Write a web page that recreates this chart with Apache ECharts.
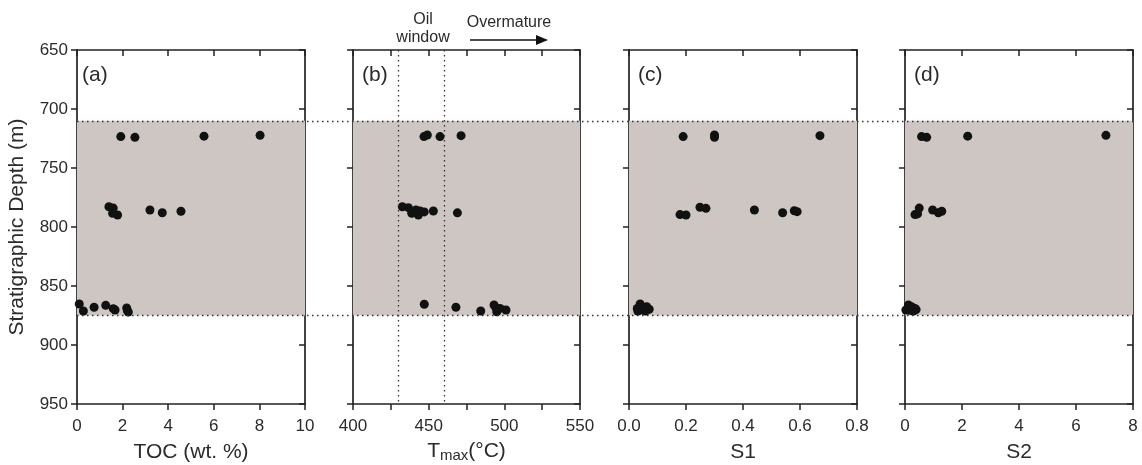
<!DOCTYPE html>
<html>
<head>
<meta charset="utf-8">
<script src="https://cdn.jsdelivr.net/npm/echarts@6/dist/echarts.min.js"></script>
<style>
html,body{margin:0;padding:0;background:#fff;}
#chart{width:1142px;height:465px;}
</style>
</head>
<body>
<div id="chart"></div>
<script>
// depth range and the shaded interval
var depthRange = [650, 950];
var zoneTop = 710, zoneBottom = 875;
var oilWindow = [430, 460];

// [value, depth (m)]
var tocData = [
  [1.92, 723.4], [2.54, 724], [5.57, 723], [8.03, 722.3],
  [1.40, 782.8], [1.59, 784], [1.56, 788.4], [1.78, 789.8], [3.2, 785.6], [3.74, 787.9], [4.56, 786.7],
  [0.1, 865.3], [0.28, 871.2], [0.75, 868], [1.26, 866.4], [1.59, 869.2], [1.67, 870.3], [2.18, 868.6], [2.21, 870.9], [2.25, 872]
];
var tmaxData = [
  [446.9, 723.4], [449.1, 722], [457.5, 723.4], [471.4, 722.6],
  [432.6, 782.8], [436.6, 783.6], [438.8, 788.4], [441.6, 785.6], [443.2, 789.8], [444.3, 786.4], [447.1, 787.2], [453.1, 786.4], [469, 788],
  [447.1, 865.5], [468, 868], [484.4, 871.2], [493.2, 866.1], [495, 871.8], [497.2, 869], [501.1, 870.3], [494.5, 868.5]
];
var s1Data = [
  [0.19, 723.4], [0.30, 722], [0.30, 724], [0.67, 722.6],
  [0.179, 789.5], [0.2, 789.8], [0.249, 783.3], [0.27, 784.2], [0.44, 785.6], [0.539, 787.9], [0.58, 786.2], [0.59, 787],
  [0.029, 869], [0.039, 865.3], [0.05, 870.3], [0.062, 867.5], [0.071, 869.7], [0.031, 871.2], [0.058, 871.2]
];
var s2Data = [
  [0.58, 723.4], [0.76, 724], [2.2, 723], [7.05, 722.3],
  [0.35, 789.5], [0.44, 788.9], [0.5, 784], [0.97, 785.6], [1.17, 788], [1.29, 786.7],
  [0.03, 870.3], [0.12, 866], [0.23, 867.5], [0.35, 869], [0.29, 871.2], [0.15, 870.6], [0.39, 870]
];

var panels = [
  {left: 77,  width: 228, min: 0,   max: 10,  step: 2,   label: '(a)', name: 'TOC (wt. %)', gap: 38, data: tocData},
  {left: 353, width: 227, min: 400, max: 550, step: 25,  label: '(b)', name: '{t|T}{s|max}{t|(°C)}', gap: 35, data: tmaxData},
  {left: 629, width: 228, min: 0,   max: 0.8, step: 0.2, label: '(c)', name: 'S1', gap: 38, data: s1Data},
  {left: 905, width: 228, min: 0,   max: 8,   step: 2,   label: '(d)', name: 'S2', gap: 38, data: s2Data}
];

var FONT = 'Liberation Sans, Arial, sans-serif';
var INK = '#222';
var TXT = '#2b2b2b';
var axisLine = {show: true, onZero: false, lineStyle: {color: INK, width: 1.7}};

var option = {
  animation: false,
  backgroundColor: '#fff',
  textStyle: {fontFamily: FONT},
  grid: [], xAxis: [], yAxis: [], series: [], graphic: []
};

panels.forEach(function (p, i) {
  option.grid.push({left: p.left, width: p.width, top: 50, height: 354, containLabel: false, outerBoundsMode: 'none'});
  // bottom axis
  option.xAxis.push({
    type: 'value', gridIndex: i, position: 'bottom', min: p.min, max: p.max, interval: p.step,
    axisLine: axisLine, splitLine: {show: false},
    axisTick: {show: true, length: 6, lineStyle: {color: INK, width: 1.5}},
    axisLabel: {
      color: TXT, fontSize: 17, margin: 14, showMinLabel: true, showMaxLabel: true,
      formatter: function (v) {
        if (i === 1) return v % 50 === 0 ? String(v) : '';
        if (i === 2) return v.toFixed(1);
        return String(v);
      }
    },
    name: p.name, nameLocation: 'middle', nameGap: p.gap,
    nameTextStyle: {
      color: TXT, fontSize: 21,
      rich: {t: {fontSize: 21, color: TXT}, s: {fontSize: 15, color: TXT, verticalAlign: 'bottom', padding: [9, 0, 0, 0]}}
    }
  });
  // top axis (ticks inward)
  option.xAxis.push({
    type: 'value', gridIndex: i, position: 'top', min: p.min, max: p.max, interval: p.step,
    axisLine: axisLine, splitLine: {show: false},
    axisTick: {show: true, inside: true, length: 6, lineStyle: {color: INK, width: 1.5}},
    axisLabel: {show: false}
  });
  // left depth axis
  option.yAxis.push({
    type: 'value', gridIndex: i, position: 'left', inverse: true,
    min: depthRange[0], max: depthRange[1], interval: 50,
    axisLine: axisLine, splitLine: {show: false},
    axisTick: {show: true, length: 6, lineStyle: {color: INK, width: 1.5}},
    axisLabel: {show: i === 0, color: TXT, fontSize: 17, margin: 9},
    name: i === 0 ? 'Stratigraphic Depth (m)' : '', nameLocation: 'middle', nameGap: 49, nameRotate: 90,
    nameTextStyle: {color: TXT, fontSize: 21}
  });
  // right depth axis (ticks inward)
  option.yAxis.push({
    type: 'value', gridIndex: i, position: 'right', inverse: true,
    min: depthRange[0], max: depthRange[1], interval: 50,
    axisLine: axisLine, splitLine: {show: false},
    axisTick: {show: true, inside: true, length: 6, lineStyle: {color: INK, width: 1.5}},
    axisLabel: {show: false}
  });

  var s = {
    type: 'scatter', xAxisIndex: i * 2, yAxisIndex: i * 2,
    data: p.data, symbolSize: 9, itemStyle: {color: '#111', opacity: 1},
    markArea: {
      silent: true, itemStyle: {color: '#cdc6c2'},
      data: [[{yAxis: zoneTop}, {yAxis: zoneBottom}]]
    },
    z: 3
  };
  if (i === 1) {
    s.markLine = {
      silent: true, symbol: 'none', label: {show: false},
      lineStyle: {color: '#333', type: [1.5, 3.5], width: 1.3},
      data: oilWindow.map(function (v) { return {xAxis: v}; })
    };
  }
  option.series.push(s);

  option.graphic.push({
    type: 'text', x: p.left + (i === 0 ? 5 : 9), y: 75,
    style: {text: p.label, font: '21px ' + FONT, fill: TXT, verticalAlign: 'middle'}
  });
});

// full-width overlay for the dotted zone boundaries
option.grid.push({left: 77, right: 9, top: 50, height: 354, containLabel: false, outerBoundsMode: 'none'});
option.xAxis.push({type: 'value', gridIndex: 4, min: 0, max: 1, show: false});
option.yAxis.push({type: 'value', gridIndex: 4, inverse: true, min: depthRange[0], max: depthRange[1], show: false});
option.series.push({
  type: 'line', xAxisIndex: 8, yAxisIndex: 8, data: [], z: 5,
  markLine: {
    silent: true, symbol: 'none', label: {show: false},
    lineStyle: {color: '#333', type: [1.5, 3.5], width: 1.3},
    data: [{yAxis: zoneTop}, {yAxis: zoneBottom}]
  }
});

// maturity annotations above panel (b)
option.graphic.push(
  {type: 'text', x: 423, y: 20, style: {text: 'Oil', font: '16px ' + FONT, fill: TXT, align: 'center', verticalAlign: 'middle'}},
  {type: 'text', x: 423, y: 38, style: {text: 'window', font: '16px ' + FONT, fill: TXT, align: 'center', verticalAlign: 'middle'}},
  {type: 'text', x: 509, y: 23, style: {text: 'Overmature', font: '16px ' + FONT, fill: TXT, align: 'center', verticalAlign: 'middle'}},
  {type: 'line', shape: {x1: 470, y1: 40, x2: 538, y2: 40}, style: {stroke: '#111', lineWidth: 1.3}},
  {type: 'polygon', shape: {points: [[548, 40], [536, 35], [536, 45]]}, style: {fill: '#111'}}
);

var chart = echarts.init(document.getElementById('chart'));
chart.setOption(option);
</script>
</body>
</html>
